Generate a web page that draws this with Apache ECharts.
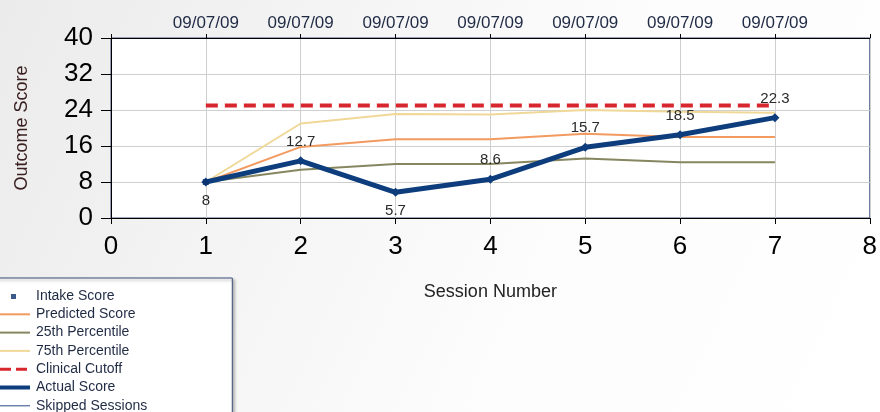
<!DOCTYPE html>
<html>
<head>
<meta charset="utf-8">
<title>Outcome Score</title>
<script src="https://cdn.jsdelivr.net/npm/echarts@6/dist/echarts.min.js"></script>
<style>
  html, body { margin: 0; padding: 0; }
  #chart { width: 880px; height: 412px; }
</style>
</head>
<body>
<div id="chart"></div>
<script>
// values
const sessions = [1, 2, 3, 4, 5, 6, 7]
const sessionDates = ['09/07/09', '09/07/09', '09/07/09', '09/07/09', '09/07/09', '09/07/09', '09/07/09']
const intakeScore = [8]
const predictedScore = [8, 15.8, 17.5, 17.5, 18.7, 18, 18]
const percentile25 = [8, 10.7, 12, 12, 13.2, 12.4, 12.4]
const percentile75 = [8, 21, 23.1, 23, 24, 23.6, 23.4]
const clinicalCutoff = [25, 25, 25, 25, 25, 25, 25]
const actualScore = [8, 12.7, 5.7, 8.6, 15.7, 18.5, 22.3]
const yTicks = [0, 8, 16, 24, 32, 40]

const pair = (vals) => vals.map((v, i) => [sessions[i], v])
const labelSide = ['bottom', 'top', 'bottom', 'top', 'top', 'top', 'top'] // where each number sits

// legend glyphs, 30x12 boxes (the corner moves keep the box size)
const box = (body) => 'path://M0,0' + body + 'M30,12'
const icons = {
  square: box('M11,4H16V9H11Z'),
  line: box('M0,5H30V7H0Z'),
  thin: box('M0,5.5H30V6.5H0Z'),
  thick: box('M0,4H30V8H0Z'),
  dashed: box('M0,4.5H11V7.5H0ZM16,4.5H27V7.5H16Z')
}

const font = 'Liberation Sans, Arial, sans-serif'
const chart = echarts.init(document.getElementById('chart'))

chart.setOption({
  backgroundColor: {
    type: 'linear', x: 0, y: 0, x2: 1, y2: 1,
    colorStops: [
      { offset: 0, color: '#ebebeb' },
      { offset: 0.6, color: '#fcfcfc' },
      { offset: 1, color: '#ffffff' }
    ]
  },
  animation: false,
  textStyle: { fontFamily: font },
  grid: {
    left: 111, right: 8, top: 38, bottom: 194,
    show: true, backgroundColor: '#fff', borderColor: '#3a4d7a', borderWidth: 1
  },
  legend: {
    orient: 'vertical',
    left: -8,
    top: 278,
    height: 140,
    padding: [11, 85, 8, 8],
    itemGap: 4.3,
    itemWidth: 30,
    itemHeight: 12,
    backgroundColor: '#fff',
    borderColor: '#3a4d7a',
    borderWidth: 1,
    shadowColor: 'rgba(0,0,0,0.35)',
    shadowBlur: 3,
    shadowOffsetX: 2,
    shadowOffsetY: 2,
    textStyle: { fontFamily: font, fontSize: 14, lineHeight: 14, color: '#1f2a44', padding: [0, 0, 0, 1] },
    data: [
      { name: 'Intake Score', icon: icons.square },
      { name: 'Predicted Score', icon: icons.line },
      { name: '25th Percentile', icon: icons.line },
      { name: '75th Percentile', icon: icons.line },
      { name: 'Clinical Cutoff', icon: icons.dashed },
      { name: 'Actual Score', icon: icons.thick },
      { name: 'Skipped Sessions', icon: icons.thin }
    ]
  },
  xAxis: [
    {
      type: 'value',
      min: 0, max: 8, interval: 1,
      name: 'Session Number',
      nameLocation: 'middle',
      nameGap: 65,
      nameTextStyle: { fontSize: 18, color: '#222' },
      axisLine: { show: true, lineStyle: { color: '#000' } },
      axisTick: { show: true, length: 6, lineStyle: { color: '#000' } },
      axisLabel: { fontSize: 26, color: '#000', margin: 16 },
      splitLine: { show: true, lineStyle: { color: '#cfcfcf' } }
    },
    {
      type: 'value',
      position: 'top',
      min: 0, max: 8, interval: 1,
      axisLine: { show: true, lineStyle: { color: '#000' } },
      axisTick: { show: true, length: 4, lineStyle: { color: '#000' } },
      axisLabel: {
        fontSize: 17, color: '#1f2a44', margin: 6,
        formatter: (v) => sessionDates[v - 1] || ''
      },
      splitLine: { show: false }
    }
  ],
  yAxis: {
    type: 'value',
    min: yTicks[0], max: yTicks[yTicks.length - 1], interval: 8,
    name: 'Outcome Score',
    nameLocation: 'middle',
    nameGap: 80,
    nameTextStyle: { fontSize: 18, color: '#3a2020' },
    axisLine: { show: true, lineStyle: { color: '#000' } },
    axisTick: { show: true, length: 10, lineStyle: { color: '#000' } },
    axisLabel: { fontSize: 26, color: '#000', margin: 18 },
    splitLine: { show: true, lineStyle: { color: '#cfcfcf' } }
  },
  series: [
    {
      name: 'Intake Score',
      type: 'scatter',
      symbol: 'rect',
      symbolSize: 6,
      itemStyle: { color: '#0b2f6e' },
      data: intakeScore.map((v) => [sessions[0], v]),
      z: 6
    },
    {
      name: 'Predicted Score',
      type: 'line',
      symbol: 'none',
      lineStyle: { color: '#f39a60', width: 2 },
      itemStyle: { color: '#f39a60' },
      data: pair(predictedScore),
      z: 2
    },
    {
      name: '25th Percentile',
      type: 'line',
      symbol: 'none',
      lineStyle: { color: '#868660', width: 2 },
      itemStyle: { color: '#868660' },
      data: pair(percentile25),
      z: 2
    },
    {
      name: '75th Percentile',
      type: 'line',
      symbol: 'none',
      lineStyle: { color: '#f0d898', width: 2 },
      itemStyle: { color: '#f0d898' },
      data: pair(percentile75),
      z: 2
    },
    {
      name: 'Clinical Cutoff',
      type: 'line',
      symbol: 'none',
      lineStyle: { color: '#d7262e', width: 4, type: [12, 7] },
      itemStyle: { color: '#d7262e' },
      data: pair(clinicalCutoff),
      z: 3
    },
    {
      name: 'Actual Score',
      type: 'line',
      symbol: 'diamond',
      symbolSize: 9,
      showSymbol: true,
      lineStyle: { color: '#0d3d7c', width: 5 },
      itemStyle: { color: '#0d3d7c' },
      label: {
        show: true,
        fontSize: 15,
        color: '#2a2a2a',
        distance: 7
      },
      data: actualScore.map((v, i) => ({
        value: [sessions[i], v],
        label: { position: labelSide[i] }
      })),
      z: 5
    },
    {
      name: 'Skipped Sessions',
      type: 'line',
      symbol: 'none',
      lineStyle: { color: '#2a4a88', width: 1 },
      itemStyle: { color: '#2a4a88' },
      data: []
    }
  ]
})
</script>
</body>
</html>
